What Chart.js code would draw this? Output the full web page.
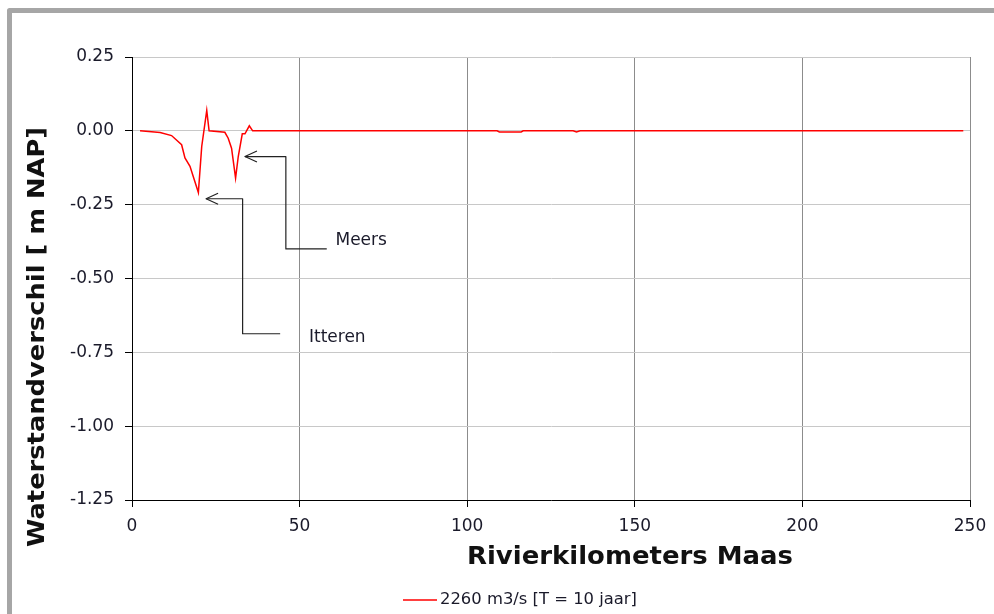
<!DOCTYPE html>
<html>
<head>
<meta charset="utf-8">
<script src="https://cdn.jsdelivr.net/npm/chart.js@4/dist/chart.umd.min.js"></script>
<style>
  html, body { margin: 0; padding: 0; background: #fff; }
  #wrap { width: 994px; height: 614px; position: relative; }
</style>
</head>
<body>
<div id="wrap"><canvas id="chart"></canvas></div>
<script>
// rivierkilometer and waterstandverschil (m)
const kmValues = [2.4, 8.4, 11.8, 14.8, 15.8, 17.3, 19.8, 20.8, 22.3, 23.0, 27.7, 28.7, 29.7, 30.9, 31.7, 32.9, 33.7, 35.0, 36.0,
  108.9, 109.6, 116.1, 116.7, 131.6, 132.6, 133.7, 248];
const diffValues = [0, -0.006, -0.016, -0.047, -0.092, -0.12, -0.209, -0.053, 0.069, 0, -0.005, -0.025, -0.059, -0.16, -0.087, -0.01, -0.01, 0.017, 0,
  0, -0.004, -0.004, 0, 0, -0.004, 0, 0];
const seriesLabel = "2260 m3/s [T = 10 jaar]";

const xTicks = [0, 50, 100, 150, 200, 250];
const yTicks = [0.25, 0, -0.25, -0.5, -0.75, -1.0, -1.25];

// callouts: arrow path in data units (km, m), first point is the arrow tip
const callouts = [
  { text: "Meers", km: [33.7, 45.9, 45.9, 58.1], m: [-0.087, -0.087, -0.40, -0.40], labelKm: 60.7, labelM: -0.372 },
  { text: "Itteren", km: [22.1, 33.0, 33.0, 44.2], m: [-0.23, -0.23, -0.687, -0.687], labelKm: 52.8, labelM: -0.70 }
];

const FONT = "'DejaVu Sans', Verdana, sans-serif";

// draw text stretched to a given width (the original uses a wider face)
function fitText(ctx, text, x, y, width) {
  const w = ctx.measureText(text).width;
  ctx.save();
  ctx.translate(x, y);
  ctx.scale(width / w, 1);
  ctx.fillText(text, 0, 0);
  ctx.restore();
}

const extras = {
  id: "extras",
  afterDraw(chart) {
    const ctx = chart.ctx;
    const xs = chart.scales.x, ys = chart.scales.y;
    ctx.save();

    // outer frame
    ctx.strokeStyle = "#a6a6a6";
    ctx.lineWidth = 5;
    ctx.lineJoin = "round";
    ctx.strokeRect(9.5, 10.5, 1100, 700);

    // callouts
    ctx.strokeStyle = "#222";
    ctx.lineWidth = 1.2;
    ctx.fillStyle = "#1a1a2a";
    ctx.font = "17px " + FONT;
    ctx.textBaseline = "middle";
    ctx.textAlign = "left";
    callouts.forEach(c => {
      ctx.beginPath();
      c.km.forEach((k, i) => {
        const px = xs.getPixelForValue(k), py = ys.getPixelForValue(c.m[i]);
        if (i === 0) ctx.moveTo(px, py); else ctx.lineTo(px, py);
      });
      ctx.stroke();
      const tx = xs.getPixelForValue(c.km[0]), ty = ys.getPixelForValue(c.m[0]);
      ctx.beginPath();
      ctx.moveTo(tx + 12, ty - 5.5);
      ctx.lineTo(tx, ty);
      ctx.lineTo(tx + 12, ty + 5.5);
      ctx.stroke();
      ctx.fillText(c.text, xs.getPixelForValue(c.labelKm), ys.getPixelForValue(c.labelM));
    });

    // axis titles
    ctx.fillStyle = "#111";
    ctx.textAlign = "center";
    ctx.font = "bold 25px " + FONT;
    fitText(ctx, "Rivierkilometers Maas", 630, 557, 326);

    ctx.save();
    ctx.translate(38, 337);
    ctx.rotate(-Math.PI / 2);
    ctx.font = "bold 23px " + FONT;
    fitText(ctx, "Waterstandverschil [ m NAP]", 0, 0, 420);
    ctx.restore();

    // legend
    const ds = chart.data.datasets[0];
    ctx.strokeStyle = ds.borderColor;
    ctx.lineWidth = 1.5;
    ctx.beginPath();
    ctx.moveTo(403, 600);
    ctx.lineTo(437, 600);
    ctx.stroke();
    ctx.fillStyle = "#1a1a2a";
    ctx.font = "15px " + FONT;
    ctx.textAlign = "left";
    fitText(ctx, ds.label, 440, 600, 197);

    ctx.restore();
  }
};

new Chart(document.getElementById("chart").getContext("2d"), {
  type: "line",
  data: {
    datasets: [
      {
        label: seriesLabel,
        data: kmValues.map((k, i) => ({ x: k, y: diffValues[i] })),
        borderColor: "#ff0000",
        borderWidth: 1.5,
        pointRadius: 0,
        tension: 0,
        fill: false,
      },
    ],
  },
  options: {
    animation: { duration: 0 },
    responsive: true,
    maintainAspectRatio: false,
    layout: { padding: { left: 0, top: 57, right: 24, bottom: 74 } },
    plugins: { legend: { display: false }, tooltip: { enabled: false } },
    scales: {
      x: {
        type: "linear",
        min: 0,
        max: 250,
        afterBuildTicks: s => { s.ticks = xTicks.map(v => ({ value: v })); },
        afterFit: s => { s.height = 40; s.paddingRight = 0; s.paddingLeft = 0; },
        grid: { color: "#8c8c8c", tickColor: "#000", tickLength: 7 },
        border: { color: "#000", width: 1 },
        ticks: { color: "#1a1a2a", font: { family: FONT, size: 17 }, padding: 9, maxRotation: 0 },
      },
      y: {
        min: -1.25,
        max: 0.25,
        afterBuildTicks: s => { s.ticks = yTicks.map(v => ({ value: v })); },
        afterFit: s => { s.width = 132; },
        grid: { color: "#c8c8c8", tickColor: "#000", tickLength: 7 },
        border: { color: "#000", width: 1 },
        ticks: {
          color: "#1a1a2a",
          font: { family: FONT, size: 17 },
          padding: 11,
          callback: v => (Math.abs(v) < 1e-9 ? "0.00" : v.toFixed(2)),
        },
      },
    },
  },
  plugins: [extras],
});
</script>
</body>
</html>
